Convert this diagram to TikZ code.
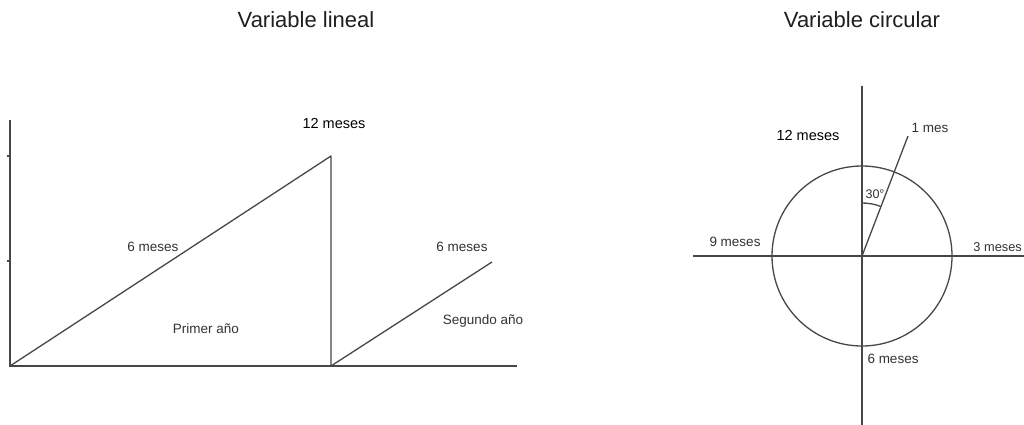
\documentclass[tikz,border=0pt]{standalone}
\usepackage{fontspec}
\setmainfont{Liberation Sans}
\begin{document}
\begin{tikzpicture}[x=1pt,y=-1pt,
  ln/.style={draw=black!72,line width=1.3pt},
  lbl/.style={inner sep=0pt,text=black!80,font=\fontsize{13.5}{16}\selectfont},
  lblk/.style={inner sep=0pt,text=black,font=\fontsize{14.5}{17}\selectfont},
  ttl/.style={inner sep=0pt,text=black!88,font=\fontsize{22}{26}\selectfont}]
\useasboundingbox (0,0) rectangle (1024,425);
\clip (0,0) rectangle (1024,425);
\fill[white] (0,0) rectangle (1024,425);
% ---------- left: linear ----------
\node[ttl] (t1) at (306,20) {Variable lineal};
\coordinate (o) at (10,366);
\coordinate (ytop) at (10,120);
\coordinate (xend) at (517,366);
\coordinate (peak) at (331,156);
\coordinate (mid) at (331,366);
\coordinate (p2) at (492,262);
\coordinate (tk1a) at (7,156); \coordinate (tk1b) at (10,156);
\coordinate (tk2a) at (7,261); \coordinate (tk2b) at (10,261);
\draw[ln] (ytop) -- (o) -- (xend);
\draw[ln] (tk1a) -- (tk1b);
\draw[ln] (tk2a) -- (tk2b);
\draw[ln,line join=round] (o) -- (peak) -- (mid) -- (p2);
\node[lblk] (l12) at (334,124) {12 meses};
\node[lbl] (l6a) at (153,247) {6 meses};
\node[lbl] (lpa) at (206,329) {Primer año};
\node[lbl] (l6b) at (462,247) {6 meses};
\node[lbl] (lsa) at (483,321) {Segundo año};
% ---------- right: circular ----------
\node[ttl] (t2) at (862,20) {Variable circular};
\coordinate (c) at (862,256);
\coordinate (vt) at (862,86);
\coordinate (vb) at (862,425);
\coordinate (hl) at (693,256);
\coordinate (hr) at (1024,256);
\coordinate (m1) at (908,136);
\draw[ln] (c) circle[radius=90];
\draw[ln] (vt) -- (vb);
\draw[ln] (hl) -- (hr);
\draw[ln] (c) -- (m1);
\draw[ln] (862,203) arc[start angle=-90,end angle=-69,radius=53];
\node[lbl,font=\fontsize{12.5}{15}\selectfont] (a30) at (875,194) {30°};
\node[lbl] (m1l) at (930,128) {1 mes};
\node[lblk] (c12) at (808,136) {12 meses};
\node[lbl] (c9) at (735,242) {9 meses};
\node[lbl,anchor=east,font=\fontsize{12.8}{15}\selectfont] (c3) at (1022,247) {3 meses};
\node[lbl] (c6) at (893,359) {6 meses};
\end{tikzpicture}
\end{document}
